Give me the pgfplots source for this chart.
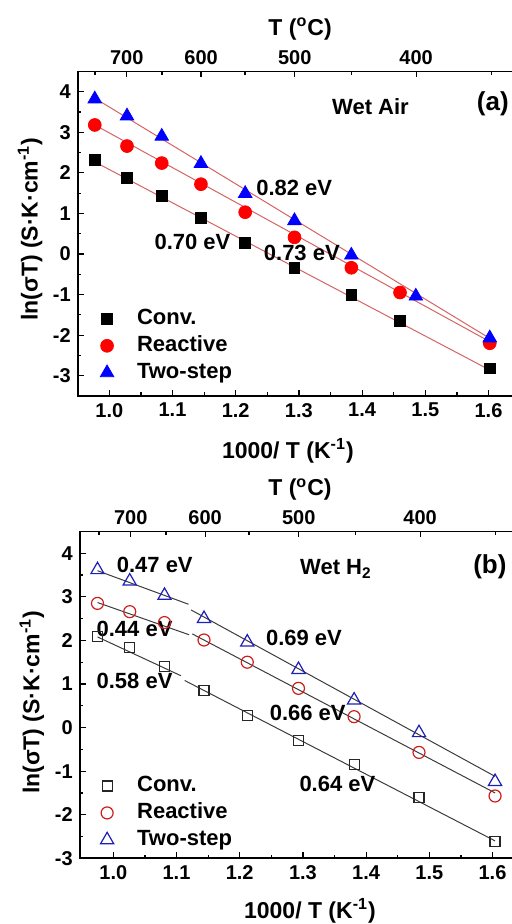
\documentclass[border=0pt]{standalone}
\usepackage{pgfplots}
\pgfplotsset{compat=1.18}
\usepackage{fontspec}
\setmainfont{Liberation Sans}

\definecolor{fitred}{RGB}{212,100,100}
\definecolor{fitgray}{RGB}{60,60,60}
\definecolor{mred}{RGB}{255,0,0}
\definecolor{mblue}{RGB}{0,0,255}
\definecolor{ored}{RGB}{205,30,30}
\definecolor{oblue}{RGB}{30,30,185}

\tikzset{ann/.style={anchor=west, inner sep=0pt, font=\fontsize{11}{13}\selectfont\bfseries}}

\pgfplotsset{
  base/.style={
    scale only axis,
    /pgf/number format/assume math mode=true,
    tick label style={font=\fontsize{10}{12}\selectfont\bfseries},
    label style={font=\fontsize{11.5}{13}\selectfont\bfseries},
    axis line style={line width=0.8pt},
    every tick/.style={line width=0.6pt, black},
    major tick length=3pt, minor tick length=1.8pt,
    tick align=inside,
  },
  mainax/.style={
    base,
    xtick={1.0,1.1,1.2,1.3,1.4,1.5,1.6},
    xticklabel style={/pgf/number format/.cd, fixed, fixed zerofill, precision=1},
    ytick={-3,-2,-1,0,1,2,3,4},
    minor x tick num=1, minor y tick num=1,
    xtick pos=left, ytick pos=left,
    xlabel={1000/ T (K\textsuperscript{-1})},
    ylabel={ln(σT) (S·K·cm\textsuperscript{-1})},
    legend cell align=left,
    legend style={draw=none, fill=none, inner sep=0pt, row sep=1pt,
      font=\fontsize{11}{13}\selectfont\bfseries,
      nodes={text height=8pt, text depth=2.5pt, inner sep=1pt}},
    legend image code/.code={\path[draw=none, fill=none] (-5pt,0pt) -- (14pt,0pt);
      \draw[#1] plot coordinates {(0pt,0pt)};},
  },
  topax/.style={
    base,
    axis x line*=top, axis y line=none,
    xtick={1.02759,1.14525,1.29341,1.48555},
    xticklabels={700,600,500,400},
    minor xtick={0.97737,1.08326,1.21484,1.38284,1.60475},
    xlabel={T (\textsuperscript{o}C)},
  },
}

\begin{document}
\begin{tikzpicture}
\path[use as bounding box] (0pt,0pt) rectangle (256pt,462pt);

% ---------------- Panel (a) ----------------
\begin{axis}[mainax, at={(38.85pt,264pt)}, anchor=south west,
  width=218.04pt, height=162.3pt,
  xmin=0.95, xmax=1.64, ymin=-3.5, ymax=4.5,
  xlabel style={at={([yshift=-27.5pt]axis description cs:0.482,0)}, anchor=center},
  ylabel style={at={([xshift=-23.8pt]axis description cs:0,0.514)}, anchor=center},
  legend style={at={(axis cs:0.980,-1.28)}, anchor=north west},
]
\addplot[only marks, mark=square*, mark size=2.7pt, black] coordinates {
(0.977,2.32) (1.028,1.87) (1.083,1.43) (1.145,0.88) (1.215,0.28) (1.293,-0.35) (1.383,-1.01) (1.460,-1.65) (1.602,-2.82)};
\addlegendentry{Conv.}
\addplot[only marks, mark=*, mark size=3.2pt, draw=mred, fill=mred] coordinates {
(0.977,3.18) (1.028,2.66) (1.083,2.24) (1.145,1.72) (1.215,1.03) (1.293,0.41) (1.383,-0.34) (1.460,-0.95) (1.602,-2.20)};
\addlegendentry{Reactive}
\addplot[only marks, mark=triangle*, mark size=3.9pt, draw=mblue, fill=mblue] coordinates {
(0.977,3.82) (1.028,3.40) (1.083,2.90) (1.145,2.23) (1.215,1.49) (1.293,0.82) (1.383,-0.03) (1.485,-1.04) (1.602,-2.07)};
\addlegendentry{Two-step}
\addplot[fitred, line width=0.5pt, forget plot] coordinates {(0.977,3.84) (1.602,-2.08)};
\addplot[fitred, line width=0.5pt, forget plot] coordinates {(0.977,3.18) (1.602,-2.16)};
\addplot[fitred, line width=0.5pt, forget plot] coordinates {(0.977,2.27) (1.602,-2.86)};
\node[ann] at (axis cs:1.352,3.62) {Wet Air};
\node[ann, font=\fontsize{13}{15}\selectfont\bfseries] at (axis cs:1.581,3.70) {(a)};
\node[ann] at (axis cs:1.232,1.62) {0.82 eV};
\node[ann] at (axis cs:1.071,0.29) {0.70 eV};
\node[ann] at (axis cs:1.244,0.03) {0.73 eV};
\end{axis}
\begin{axis}[topax, at={(38.85pt,264pt)}, anchor=south west,
  width=218.04pt, height=162.3pt,
  xmin=0.95, xmax=1.64, ymin=-3.5, ymax=4.5,
  xlabel style={at={([yshift=21pt]axis description cs:0.51,1)}, anchor=center},
]
\addplot[draw=none, forget plot] coordinates {(1.0,0) (1.5,0)};
\end{axis}

% ---------------- Panel (b) ----------------
\begin{axis}[mainax, at={(39.9pt,32.85pt)}, anchor=south west,
  width=217.1pt, height=163.4pt,
  xmin=0.947, xmax=1.634, ymin=-3, ymax=4.5,
  xlabel style={at={([yshift=-26.4pt]axis description cs:0.53,0)}, anchor=center},
  ylabel style={at={([xshift=-24pt]axis description cs:0,0.477)}, anchor=center},
  legend style={at={(axis cs:0.9738,-1.043)}, anchor=north west},
]
\addplot[only marks, mark=square, mark size=2.5pt, line width=0.6pt, draw=black!85] coordinates {
(0.975,2.09) (1.026,1.84) (1.081,1.40) (1.1435,0.86) (1.212,0.27) (1.293,-0.30) (1.381,-0.84) (1.4837,-1.60) (1.604,-2.62)};
\addlegendentry{Conv.}
\addplot[only marks, mark=o, mark size=3pt, line width=0.6pt, draw=ored] coordinates {
(0.975,2.85) (1.026,2.66) (1.081,2.41) (1.1435,2.01) (1.212,1.50) (1.293,0.90) (1.381,0.25) (1.4837,-0.57) (1.604,-1.57)};
\addlegendentry{Reactive}
\addplot[only marks, mark=triangle, mark size=3.8pt, line width=0.6pt, draw=oblue] coordinates {
(0.975,3.62) (1.026,3.36) (1.081,3.03) (1.1435,2.50) (1.212,1.96) (1.293,1.33) (1.381,0.63) (1.4837,-0.12) (1.604,-1.24)};
\addlegendentry{Two-step}
\addplot[fitgray, line width=0.5pt, forget plot] coordinates {(0.975,3.60) (1.119,2.83)};
\addplot[fitgray, line width=0.5pt, forget plot] coordinates {(1.123,2.70) (1.604,-1.12)};
\addplot[fitgray, line width=0.5pt, forget plot] coordinates {(0.975,2.87) (1.120,2.13)};
\addplot[fitgray, line width=0.5pt, forget plot] coordinates {(1.125,2.15) (1.604,-1.50)};
\addplot[fitgray, line width=0.5pt, forget plot] coordinates {(0.975,2.08) (1.107,1.19)};
\addplot[fitgray, line width=0.5pt, forget plot] coordinates {(1.113,1.08) (1.604,-2.60)};
\node[ann] at (axis cs:1.005,3.74) {0.47 eV};
\node[ann] at (axis cs:1.295,3.64) {Wet H\textsubscript{2}};
\node[ann, font=\fontsize{13}{15}\selectfont\bfseries] at (axis cs:1.569,3.68) {(b)};
\node[ann] at (axis cs:0.973,2.27) {0.44 eV};
\node[ann] at (axis cs:1.241,2.05) {0.69 eV};
\node[ann] at (axis cs:0.973,1.06) {0.58 eV};
\node[ann] at (axis cs:1.247,0.34) {0.66 eV};
\node[ann] at (axis cs:1.294,-1.29) {0.64 eV};
\end{axis}
\begin{axis}[topax, at={(39.9pt,32.85pt)}, anchor=south west,
  width=217.1pt, height=163.4pt,
  xmin=0.947, xmax=1.634, ymin=-3, ymax=4.5,
  xlabel style={at={([yshift=21pt]axis description cs:0.507,1)}, anchor=center},
]
\addplot[draw=none, forget plot] coordinates {(1.0,0) (1.5,0)};
\end{axis}
\end{tikzpicture}
\end{document}
